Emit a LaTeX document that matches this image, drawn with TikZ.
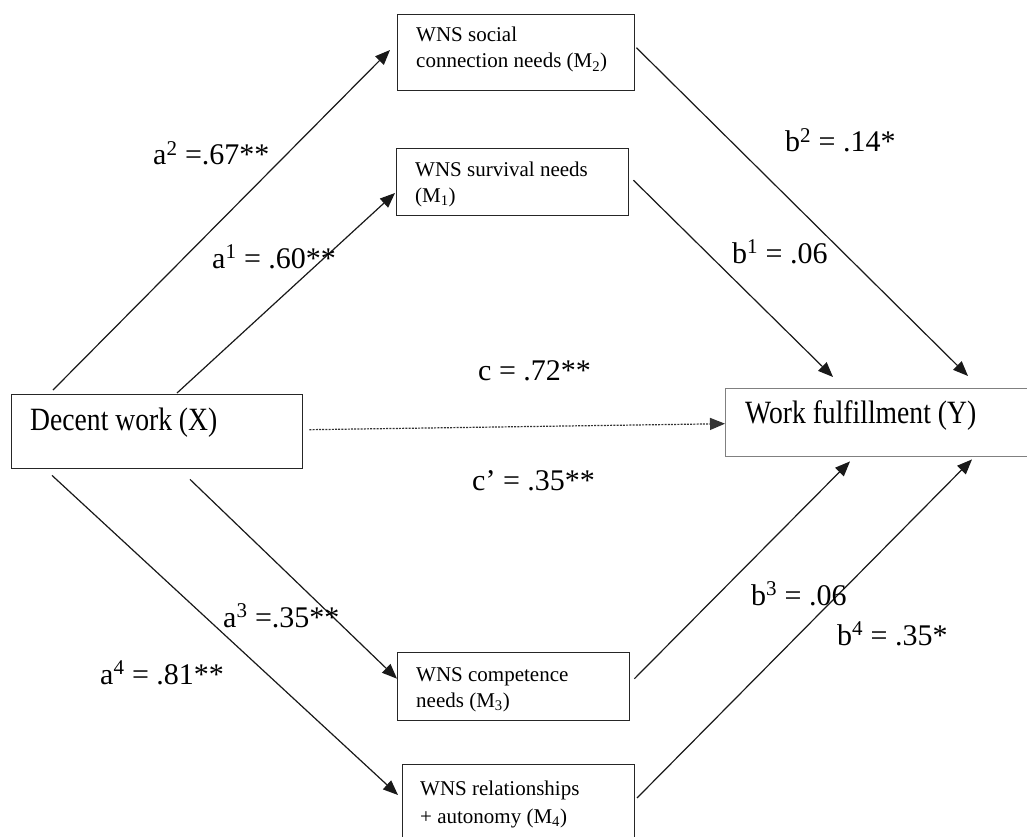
\documentclass[tikz,border=0pt]{standalone}
\usepackage{fontspec}
\setmainfont{Liberation Serif}
\newfontfamily\condserif{Liberation Serif}[FakeStretch=0.85]
\usetikzlibrary{arrows.meta,calc}
\begin{document}
\begin{tikzpicture}[x=1pt,y=-1pt,
  frame/.style={draw=#1, line width=1.4pt, inner sep=0pt, anchor=north west},
  boxtxt/.style={font=\fontsize{21}{26}\selectfont, anchor=base west, align=left, inner sep=0pt},
  bigtxt/.style={font=\condserif\fontsize{32.5}{34}\selectfont, anchor=base west, inner sep=0pt},
  lbl/.style={font=\fontsize{30}{32}\selectfont, anchor=base west, inner sep=0pt},
  arr/.style={line width=1.2pt, draw=black!90, -{Triangle[length=15pt,width=12pt]}},
  dotarr/.style={line width=1.2pt, draw=black!80, dash pattern=on 2pt off 1.2pt, -{Triangle[length=15pt,width=12pt]}}]
\clip (0,0) rectangle (1027,837);
\fill[white] (0,0) rectangle (1027,837);
% boxes
\node[frame=black!85, minimum width=237pt, minimum height=76pt] (m2) at (397,14) {};
\node[frame=black!85, minimum width=232pt, minimum height=67pt] (m1) at (396,148) {};
\node[frame=black!85, minimum width=291pt, minimum height=74pt] (x) at (11,394) {};
\node[frame=black!50, minimum width=315pt, minimum height=68pt] (y) at (725,388) {};
\node[frame=black!85, minimum width=232pt, minimum height=68pt] (m3) at (397,652) {};
\node[frame=black!85, minimum width=232pt, minimum height=90pt] (m4) at (402,764) {};
% box texts (anchor = baseline of last line)
\node[boxtxt] (m2t) at (416,68) {WNS social\\connection needs (M\textsubscript{2})};
\node[boxtxt] (m1t) at (415,202) {WNS survival needs\\(M\textsubscript{1})};
\node[boxtxt] (m3t) at (416,707) {WNS competence\\needs (M\textsubscript{3})};
\node[boxtxt, font=\fontsize{21}{28}\selectfont] (m4t) at (420,823) {WNS relationships\\+ autonomy (M\textsubscript{4})};
\node[bigtxt] (xt) at (30,430) {Decent work (X)};
\node[bigtxt] (yt) at (745,423) {Work fulfillment (Y)};
% connectors
\draw[arr] ([shift={(42,-4)}]x.north west) -- ([shift={(-7,36)}]m2.north west);
\draw[arr] ([shift={(166,-1)}]x.north west) -- ([shift={(-1,45)}]m1.north west);
\draw[dotarr] ([shift={(6,-2)}]x.east) -- ([shift={(0,1)}]y.west);
\draw[arr] ([shift={(1,-5)}]m2.east) -- ([shift={(243,-12)}]y.north west);
\draw[arr] ([shift={(4,-2)}]m1.east) -- ([shift={(108,-11)}]y.north west);
\draw[arr] ([shift={(179,10)}]x.south west) -- ([shift={(0,-8)}]m3.west);
\draw[arr] ([shift={(41,6)}]x.south west) -- ([shift={(-4,31)}]m4.north west);
\draw[arr] ([shift={(4,-8)}]m3.east) -- ([shift={(125,4)}]y.south west);
\draw[arr] ([shift={(235,34)}]m4.north west) -- ([shift={(247,2)}]y.south west);
% labels
\node[lbl] (la2) at (153,165) {a\textsuperscript{2} =.67**};
\node[lbl] (la1) at (212,268) {a\textsuperscript{1} = .60**};
\node[lbl] (lb2) at (785,152) {b\textsuperscript{2} = .14*};
\node[lbl] (lb1) at (732,263) {b\textsuperscript{1} = .06};
\node[lbl] (lc) at (478,380) {c = .72**};
\node[lbl] (lcp) at (472,490) {c’ = .35**};
\node[lbl] (la3) at (223,627) {a\textsuperscript{3} =.35**};
\node[lbl] (la4) at (100,684) {a\textsuperscript{4} = .81**};
\node[lbl] (lb3) at (751,605) {b\textsuperscript{3} = .06};
\node[lbl] (lb4) at (837,645) {b\textsuperscript{4} = .35*};
\end{tikzpicture}
\end{document}
